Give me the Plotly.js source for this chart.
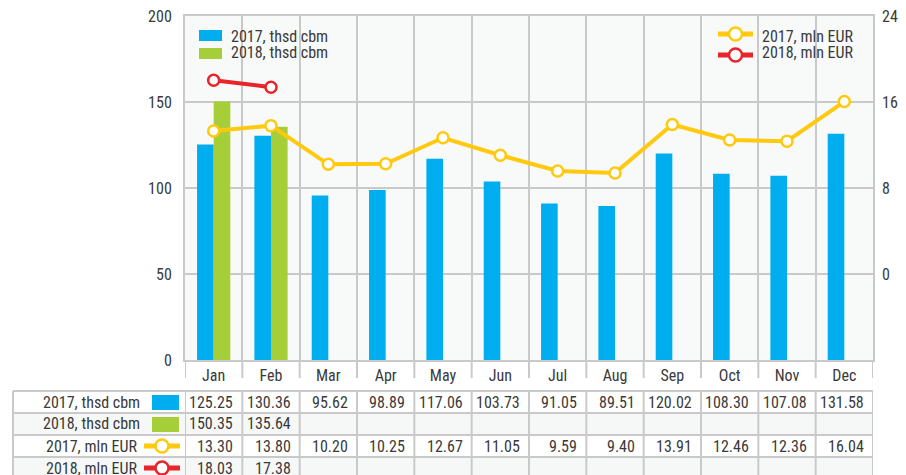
<!DOCTYPE html>
<html>
<head>
<meta charset="utf-8">
<script src="https://cdn.plot.ly/plotly-3.0.1.min.js"></script>
<style>html,body{margin:0;padding:0;background:#fff;}#chart{width:906px;height:475px;}</style>
</head>
<body>
<div id="chart"></div>
<script>
// ---- data ----
var months = ["Jan","Feb","Mar","Apr","May","Jun","Jul","Aug","Sep","Oct","Nov","Dec"];
var vol2017 = [125.25,130.36,95.62,98.89,117.06,103.73,91.05,89.51,120.02,108.30,107.08,131.58];
var vol2018 = [150.35,135.64,null,null,null,null,null,null,null,null,null,null];
var eur2017 = [13.30,13.80,10.20,10.25,12.67,11.05,9.59,9.40,13.91,12.46,12.36,16.04];
var eur2018 = [18.03,17.38,null,null,null,null,null,null,null,null,null,null];
var seriesNames = ["2017, thsd cbm","2018, thsd cbm","2017, mln EUR","2018, mln EUR"];
var leftTicks = [0,50,100,150,200];
var rightTicks = [0,8,16,24];

// ---- style ----
var FONT = "'Roboto Condensed','DejaVu Sans Condensed',sans-serif";
var TXT = "#3a3a3a";
var BLUE = "#00aeef", GREEN = "#a6ce39", YELLOW = "#ffc90e", RED = "#e8252b";
var GRID = "#c9c9c9";
var W = 906, H = 475;
var PL = 185, PR = 873, PT = 16, PB = 360;
function px(x){ return (x-PL)/(PR-PL); }
function py(y){ return (PB-y)/(PB-PT); }
function fmt(v){ return v.toFixed(2); }

var traces = [
  {type:"bar", x:months, y:vol2017, name:seriesNames[0], marker:{color:BLUE}, showlegend:false, hoverinfo:"skip"},
  {type:"bar", x:months, y:vol2018, name:seriesNames[1], marker:{color:GREEN}, showlegend:false, hoverinfo:"skip"},
  {type:"scatter", mode:"lines+markers", x:months, y:eur2017, yaxis:"y2", name:seriesNames[2],
   line:{color:YELLOW,width:4}, marker:{symbol:"circle",size:11,color:"#fff",line:{color:YELLOW,width:2.5}}, showlegend:false, hoverinfo:"skip"},
  {type:"scatter", mode:"lines+markers", x:months, y:eur2018, yaxis:"y2", name:seriesNames[3],
   line:{color:RED,width:4}, marker:{symbol:"circle",size:11,color:"#fff",line:{color:RED,width:2.5}}, showlegend:false, hoverinfo:"skip"}
];

var shapes = [];
var annotations = [];

// x tick marks below plot at category boundaries
for (var i=0;i<=months.length;i++){
  shapes.push({type:"line", xref:"x", yref:"paper", x0:i-0.5, x1:i-0.5, y0:py(360), y1:py(378),
    line:{color:GRID,width:2}});
}

// table
var rowTop = [391,413,435,457,479];
var tblLeft = 13;
[1,3].forEach(function(r){
  shapes.push({type:"rect", xref:"paper", yref:"paper", x0:px(tblLeft), x1:px(PR), y0:py(rowTop[r]), y1:py(rowTop[r+1]),
    fillcolor:"#f6f8f8", line:{width:0}, layer:"below"});
});
for (var r=0;r<rowTop.length;r++){
  shapes.push({type:"line", xref:"paper", yref:"paper", x0:px(tblLeft), x1:px(PR), y0:py(rowTop[r]), y1:py(rowTop[r]),
    line:{color:GRID,width:2}});
}
shapes.push({type:"line", xref:"paper", yref:"paper", x0:px(tblLeft), x1:px(tblLeft), y0:py(rowTop[0]), y1:py(rowTop[4]), line:{color:GRID,width:2}});
for (var i=0;i<=months.length;i++){
  shapes.push({type:"line", xref:"x", yref:"paper", x0:i-0.5, x1:i-0.5, y0:py(rowTop[0]), y1:py(rowTop[4]),
    line:{color:GRID,width:2}});
}
var rows = [vol2017, vol2018, eur2017, eur2018];
for (var r=0;r<4;r++){
  var yc = (rowTop[r]+rowTop[r+1])/2;
  for (var i=0;i<months.length;i++){
    if (rows[r][i]===null) continue;
    annotations.push({xref:"x", yref:"paper", x:i+0.5, y:py(yc), xshift:-7, xanchor:"right", yanchor:"middle",
      text:fmt(rows[r][i]), showarrow:false, font:{family:FONT,size:16,color:TXT}});
  }
  var lblRight = r<2 ? 142 : 139;
  annotations.push({xref:"paper", yref:"paper", x:px(lblRight), y:py(yc), xanchor:"right", yanchor:"middle",
    text:seriesNames[r], showarrow:false, font:{family:FONT,size:16,color:TXT}});
}
function rectSym(x0,x1,y0,y1,color){
  shapes.push({type:"rect", xref:"paper", yref:"paper", x0:px(x0), x1:px(x1), y0:py(y0), y1:py(y1), fillcolor:color, line:{width:0}});
}
function lineSym(x0,x1,yc,color,rad){
  shapes.push({type:"line", xref:"paper", yref:"paper", x0:px(x0), x1:px(x1), y0:py(yc), y1:py(yc), line:{color:color,width:5}});
  var cx=(x0+x1)/2;
  shapes.push({type:"circle", xref:"paper", yref:"paper", x0:px(cx-rad), x1:px(cx+rad), y0:py(yc-rad), y1:py(yc+rad),
    fillcolor:"#fff", line:{color:color,width:2.5}});
}
rectSym(152,179,395,410,BLUE);
rectSym(152,179,417,432,GREEN);
lineSym(144,180,446,YELLOW,6.5);
lineSym(144,180,468,RED,6.5);

// legends inside plot
rectSym(199,222,30,41,BLUE);
rectSym(199,222,48,59,GREEN);
annotations.push({xref:"paper", yref:"paper", x:px(229), y:py(36), xanchor:"left", yanchor:"middle", text:seriesNames[0], showarrow:false, font:{family:FONT,size:16,color:TXT}});
annotations.push({xref:"paper", yref:"paper", x:px(229), y:py(53), xanchor:"left", yanchor:"middle", text:seriesNames[1], showarrow:false, font:{family:FONT,size:16,color:TXT}});
lineSym(718,753,34,YELLOW,6.5);
lineSym(718,753,55,RED,6.5);
annotations.push({xref:"paper", yref:"paper", x:px(760), y:py(36), xanchor:"left", yanchor:"middle", text:seriesNames[2], showarrow:false, font:{family:FONT,size:16,color:TXT}});
annotations.push({xref:"paper", yref:"paper", x:px(760), y:py(53), xanchor:"left", yanchor:"middle", text:seriesNames[3], showarrow:false, font:{family:FONT,size:16,color:TXT}});

var layout = {
  width:W, height:H,
  margin:{l:PL, r:W-PR, t:PT, b:H-PB, pad:0},
  paper_bgcolor:"#ffffff", plot_bgcolor:"#f8f9f9",
  font:{family:FONT, size:16, color:TXT},
  barmode:"group", bargap:0.42, bargroupgap:0,
  showlegend:false,
  xaxis:{type:"category", range:[-0.5, months.length-0.5], autorange:false, showgrid:true, tickson:"boundaries", gridcolor:GRID, gridwidth:2,
    ticks:"", showline:true, linecolor:GRID, linewidth:2, mirror:true, ticklabelstandoff:0,
    tickfont:{family:FONT,size:16,color:TXT}, fixedrange:true},
  yaxis:{range:[0,200], tickvals:leftTicks, showgrid:true, gridcolor:GRID, gridwidth:2, zeroline:false,
    showline:true, linecolor:GRID, linewidth:2, mirror:true, ticks:"", ticklabelstandoff:8,
    tickfont:{family:FONT,size:16,color:TXT}},
  yaxis2:{range:[-8,24], tickvals:rightTicks, overlaying:"y", side:"right", showgrid:false, zeroline:false,
    showline:false, ticks:"", ticklabelstandoff:8, tickfont:{family:FONT,size:16,color:TXT}},
  shapes:shapes,
  annotations:annotations
};

Plotly.newPlot("chart", traces, layout, {staticPlot:true, displayModeBar:false});
</script>
</body>
</html>
